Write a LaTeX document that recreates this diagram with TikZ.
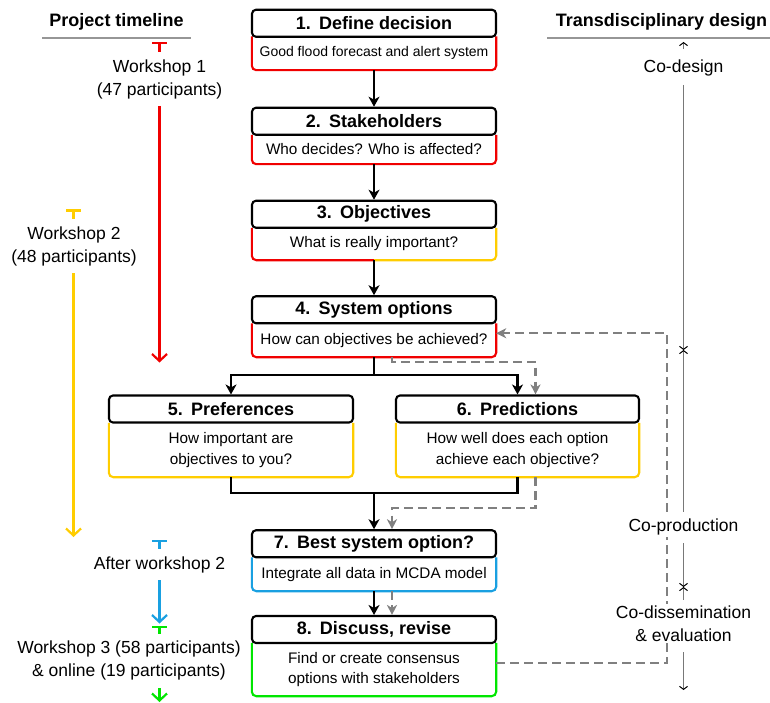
\documentclass[tikz,border=0pt]{standalone}
\usepackage{fontspec}
\setmainfont{Liberation Sans}
\usetikzlibrary{arrows.meta}
\definecolor{cRed}{RGB}{240,0,0}
\definecolor{cYel}{RGB}{255,205,0}
\definecolor{cBlue}{RGB}{25,160,225}
\definecolor{cGreen}{RGB}{0,230,0}
\definecolor{cDash}{RGB}{128,128,128}
\definecolor{cRule}{RGB}{150,150,150}
\definecolor{cRt}{RGB}{120,120,120}
\begin{document}
\begin{tikzpicture}[x=1pt,y=-1pt,
  hdr/.style={draw=black,line width=2.1pt,rounded corners=4pt,fill=white,minimum height=27pt,minimum width=244pt,inner sep=0pt,font=\bfseries\fontsize{18}{21}\selectfont},
  bdy/.style={inner sep=0pt,minimum width=244pt,align=center,font=\fontsize{15.3}{20.7}\selectfont},
  rim/.style={line width=2.1pt,rounded corners=4.5pt},
  flow/.style={line width=2.1pt,-{Stealth[length=10pt,width=11pt,inset=3pt]}},
  fl/.style={line width=2.1pt},
  dsh/.style={cDash,line width=2.2pt,dash pattern=on 8.5pt off 5.5pt,-{Stealth[length=10pt,width=10pt,inset=3pt]}},
  tl/.style={line width=2.2pt},
  tbar/.style={{Bar[width=15pt]}-},
  tarr/.style={-{Straight Barb[length=7pt,width=15pt]}},
  tlab/.style={align=center,font=\fontsize{17.5}{23}\selectfont,inner sep=1pt},
  ttl/.style={font=\bfseries\fontsize{18}{21}\selectfont,inner sep=0pt},
  rt/.style={cRt,line width=1.5pt},
  rlab/.style={fill=white,align=center,font=\fontsize{17.5}{23}\selectfont,inner sep=2pt},
  rup/.style={{Straight Barb[length=3pt,width=8pt,color=black,line width=1pt]}-},
  rdn/.style={-{Straight Barb[length=3pt,width=8pt,color=black,line width=1pt]}}
]
\useasboundingbox (0,0) rectangle (770,703);

% ---------- column titles ----------
\node[ttl] (pt) at (116.5,22) {Project timeline};
\coordinate (pl0) at (42,38); \coordinate (pl1) at (191,38);
\draw[cRule,line width=1.6pt] (pl0) -- (pl1);
\node[ttl] (td) at (661.5,22) {Transdisciplinary design};
\coordinate (tl0) at (547,38); \coordinate (tl1) at (770,38);
\draw[cRule,line width=1.6pt] (tl0) -- (tl1);

% ---------- bodies ----------
\node[bdy,minimum height=33.5pt,font=\fontsize{14}{20.7}\selectfont] (b1) at (374,53.25) {Good flood forecast and alert system};
\node[bdy,minimum height=29pt] (b2) at (374,149.5) {Who decides?\hspace{0.35em}Who is affected?};
\node[bdy,minimum height=32pt] (b3) at (374,244) {What is really important?};
\node[bdy,minimum height=33.5pt] (b4) at (374,340.25) {How can objectives be achieved?};
\node[bdy,minimum height=54pt] (b5) at (231,450) {How important are\\objectives to you?};
\node[bdy,minimum height=54pt,minimum width=243pt] (b6) at (517.5,450) {How well does each option\\achieve each objective?};
\node[bdy,minimum height=33.5pt] (b7) at (374,574.25) {Integrate all data in MCDA model};
\node[bdy,minimum height=53pt] (b8) at (374,669.5) {Find or create consensus\\options with stakeholders};

\draw[rim,cRed] (b1.north west) -- (b1.south west) -- (b1.south east) -- (b1.north east);
\draw[rim,cRed] (b2.north west) -- (b2.south west) -- (b2.south east) -- (b2.north east);
\draw[rim,cRed] (b3.north west) -- (b3.south west) -- (b3.south);
\draw[rim,cYel] (b3.south) -- (b3.south east) -- (b3.north east);
\draw[rim,cRed] (b4.north west) -- (b4.south west) -- (b4.south east) -- (b4.north east);
\draw[rim,cYel] (b5.north west) -- (b5.south west) -- (b5.south east) -- (b5.north east);
\draw[rim,cYel] (b6.north west) -- (b6.south west) -- (b6.south east) -- (b6.north east);
\draw[rim,cBlue] (b7.north west) -- (b7.south west) -- (b7.south east) -- (b7.north east);
\draw[rim,cGreen] (b8.north west) -- (b8.south west) -- (b8.south east) -- (b8.north east);

% ---------- headers ----------
\node[hdr] (h1) at (374,23.25) {1.\hspace{.45em}Define decision};
\node[hdr] (h2) at (374,121.25) {2.\hspace{.45em}Stakeholders};
\node[hdr] (h3) at (374,214.25) {3.\hspace{.45em}Objectives};
\node[hdr] (h4) at (374,309.75) {4.\hspace{.45em}System options};
\node[hdr] (h5) at (231,409) {5.\hspace{.45em}Preferences};
\node[hdr,minimum width=243pt] (h6) at (517.5,409) {6.\hspace{.45em}Predictions};
\node[hdr] (h7) at (374,543.75) {7.\hspace{.45em}Best system option?};
\node[hdr] (h8) at (374,629.5) {8.\hspace{.45em}Discuss, revise};

% ---------- solid flow ----------
\draw[flow] (b1.south) -- (h2.north);
\draw[flow] (b2.south) -- (h3.north);
\draw[flow] (b3.south) -- (h4.north);
\coordinate (sp) at (374,375);
\draw[fl] (b4.south) -- (sp);
\draw[flow] (sp) -| (h5.north);
\draw[flow] (sp) -| (h6.north);
\coordinate (mg) at (374,493);
\draw[fl] (b5.south) |- (mg) -| (b6.south);
\draw[flow] (mg) -- (h7.north);
\draw[flow] (b7.south) -- (h8.north);

% ---------- dashed flow ----------
\draw[dsh] ([xshift=18pt]b4.south) -- ++(0,5) -| ([xshift=18pt]h6.north);
\draw[dsh] ([xshift=18pt]b6.south) -- ++(0,31) -| ([xshift=18pt]h7.north);
\draw[dsh] ([xshift=18pt]b7.south) -- ([xshift=18pt]h8.north);
\coordinate (fb) at (667,663);
\draw[dsh] ([yshift=6.5pt]b8.east) -- (fb) |- ([yshift=7pt]b4.east);

% ---------- project timeline ----------
\coordinate (r0) at (159.5,42); \coordinate (r1) at (159.5,52);
\draw[tl,cRed,tbar] (r0) -- (r1);
\node[tlab] (w1) at (159.5,79.5) {Workshop 1\\(47 participants)};
\coordinate (r2) at (159.5,106); \coordinate (r3) at (159.5,362.5);
\draw[tl,cRed,tarr] (r2) -- (r3);

\coordinate (y0) at (73.5,209.5); \coordinate (y1) at (73.5,219);
\draw[tl,cYel,tbar] (y0) -- (y1);
\node[tlab] (w2) at (74,246) {Workshop 2\\(48 participants)};
\coordinate (y2) at (73.5,273); \coordinate (y3) at (73.5,537);
\draw[tl,cYel,tarr] (y2) -- (y3);

\coordinate (u0) at (159.5,539.5); \coordinate (u1) at (159.5,549);
\draw[tl,cBlue,tbar] (u0) -- (u1);
\node[tlab] (w2a) at (159.5,565) {After workshop 2};
\coordinate (u2) at (159.5,580); \coordinate (u3) at (159.5,623.5);
\draw[tl,cBlue,tarr] (u2) -- (u3);

\coordinate (g0) at (159.5,625.5); \coordinate (g1) at (159.5,634);
\draw[tl,cGreen,tbar] (g0) -- (g1);
\node[tlab] (w3) at (129,660.5) {Workshop 3 (58 participants)\\\& online (19 participants)};
\coordinate (g2) at (159.5,688); \coordinate (g3) at (159.5,702);
\draw[tl,cGreen,tarr] (g2) -- (g3);

% ---------- transdisciplinary design ----------
\coordinate (c0) at (683.5,42); \coordinate (c1) at (683.5,49);
\draw[rt,rup] (c0) -- (c1);
\coordinate (c2) at (683.5,85); \coordinate (c3) at (683.5,350);
\draw[rt,rdn] (c2) -- (c3);
\coordinate (c4) at (683.5,512);
\draw[rt,rup] (c3) -- (c4);
\coordinate (c5) at (683.5,543); \coordinate (c6) at (683.5,587);
\draw[rt,rdn] (c5) -- (c6);
\coordinate (c7) at (683.5,600);
\draw[rt,rup] (c6) -- (c7);
\coordinate (c8) at (683.5,652); \coordinate (c9) at (683.5,690);
\draw[rt,rdn] (c8) -- (c9);
\node[rlab] (cd) at (683.5,68) {Co-design};
\node[rlab] (cp) at (683.5,527) {Co-production};
\node[rlab] (cde) at (683.5,623.5) {Co-dissemination\\\& evaluation};
\end{tikzpicture}
\end{document}
